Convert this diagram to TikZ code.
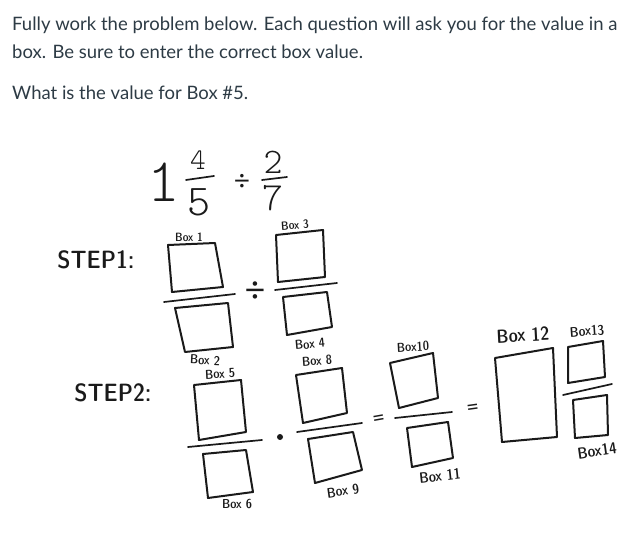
\documentclass[tikz,border=0pt]{standalone}
\usepackage{fontspec}
\setmainfont{Lato}
\newfontfamily\penfont{lmsansdemicond10-regular.otf}
\newfontfamily\digitfont{lmmonolt10-regular.otf}
\definecolor{canvastext}{HTML}{2D3B45}
\definecolor{pen}{HTML}{1A1A1A}
\begin{document}
\begin{tikzpicture}[x=1pt,y=-1pt,
    prose/.style={anchor=base west,inner sep=0pt,text=canvastext,font=\fontsize{18.5}{22}\selectfont},
    hand/.style={inner sep=0pt,text=pen,font=\penfont\fontsize{#1}{#1}\selectfont},
    hand/.default=12,
    numeral/.style={inner sep=0pt,text=pen,font=\digitfont\fontsize{#1}{#1}\selectfont},
    sign/.style={inner sep=0pt,text=pen,font=\fontsize{#1}{#1}\selectfont},
    box/.style={draw=pen,line width=2pt,line join=round,line cap=round},
    bar/.style={draw=pen,line width=1.7pt,line cap=round}]
    \useasboundingbox[fill=white] (0,0) rectangle (634,534);

    % question text
    \node[prose] (q1) at (12,31) {Fully work the problem below. Each question will ask you for the value in a};
    \node[prose] (q2) at (12,59) {box. Be sure to enter the correct box value.};
    \node[prose] (q3) at (12,100) {What is the value for Box \#5.};

    % the problem
    \node[numeral=62] (one) at (164,182) {1};
    \node[numeral=30] (four) at (198,160) {4};
    \node[numeral=44] (five) at (199,202) {5};
    \draw[bar] (186,180) -- (214,176);
    \node[sign=28] (divA) at (242,182) {÷};
    \node[numeral=36] (two) at (273,162) {2};
    \node[numeral=40] (seven) at (273,198) {7};
    \draw[bar] (262,180) -- (287,177);

    % step 1
    \node[hand=25] (step1) at (96,260) {STEP1:};
    \node[hand=12] (lb1) at (189,237) {Box 1};
    \draw[box] (168,245) -- (215,243) -- (223,287) -- (172,292) -- cycle;
    \draw[bar] (164,302) -- (235,294);
    \node[hand=13,rotate=-3] (lb2) at (205,360) {Box 2};
    \draw[box] (175,308) -- (228,303) -- (233,347) -- (185,352) -- cycle;
    \node[sign=36] (divB) at (255,292) {÷};
    \node[hand=12,rotate=4] (lb3) at (295,225) {Box 3};
    \draw[box] (276,235) -- (323,230) -- (325,277) -- (278,282) -- cycle;
    \draw[bar] (275,290) -- (337,283);
    \node[hand=13,rotate=5] (lb4) at (310,344) {Box 4};
    \draw[box] (283,297) -- (327,292) -- (332,327) -- (287,335) -- cycle;

    % step 2
    \node[hand=25] (step2) at (113,393) {STEP2:};
    \node[hand=13,rotate=3] (lb5) at (220,374) {Box 5};
    \draw[box] (194,385) -- (241,380) -- (246,432) -- (199,440) -- cycle;
    \draw[bar] (188,447) -- (262,440);
    \node[hand=13] (lb6) at (237,504) {Box 6};
    \draw[box] (203,454) -- (246,450) -- (253,492) -- (208,498) -- cycle;
    \node[circle,fill=pen,inner sep=0pt,minimum size=6pt] (dot) at (280,437) {};
    \node[hand=13,rotate=4] (lb8) at (317,361) {Box 8};
    \draw[box] (296,375) -- (342,368) -- (347,413) -- (303,423) -- cycle;
    \draw[bar] (297,432) -- (362,423);
    \node[hand=14,rotate=8] (lb9) at (343,491) {Box 9};
    \draw[box] (308,439) -- (353,432) -- (362,470) -- (315,483) -- cycle;
    \node[sign=22,rotate=10] (eqA) at (379,420) {=};
    \node[hand=13,rotate=3] (lb10) at (413,347) {Box10};
    \draw[box] (390,363) -- (433,353) -- (438,398) -- (399,408) -- cycle;
    \draw[bar] (395,418) -- (452,412);
    \node[hand=15,rotate=6] (lb11) at (440,476) {Box 11};
    \draw[box] (407,428) -- (448,422) -- (453,458) -- (412,467) -- cycle;
    \node[sign=22,rotate=8] (eqB) at (473,410) {=};
    \node[hand=19,rotate=3] (lb12) at (523,335) {Box 12};
    \draw[box] (495,358) -- (553,348) -- (557,437) -- (502,442) -- cycle;
    \node[hand=14,rotate=4] (lb13) at (587,331) {Box13};
    \draw[box] (568,347) -- (603,341) -- (605,377) -- (568,383) -- cycle;
    \draw[bar] (563,395) -- (612,384);
    \draw[box] (573,400) -- (607,395) -- (608,435) -- (575,438) -- cycle;
    \node[hand=16,rotate=8] (lb14) at (597,451) {Box14};
\end{tikzpicture}
\end{document}
